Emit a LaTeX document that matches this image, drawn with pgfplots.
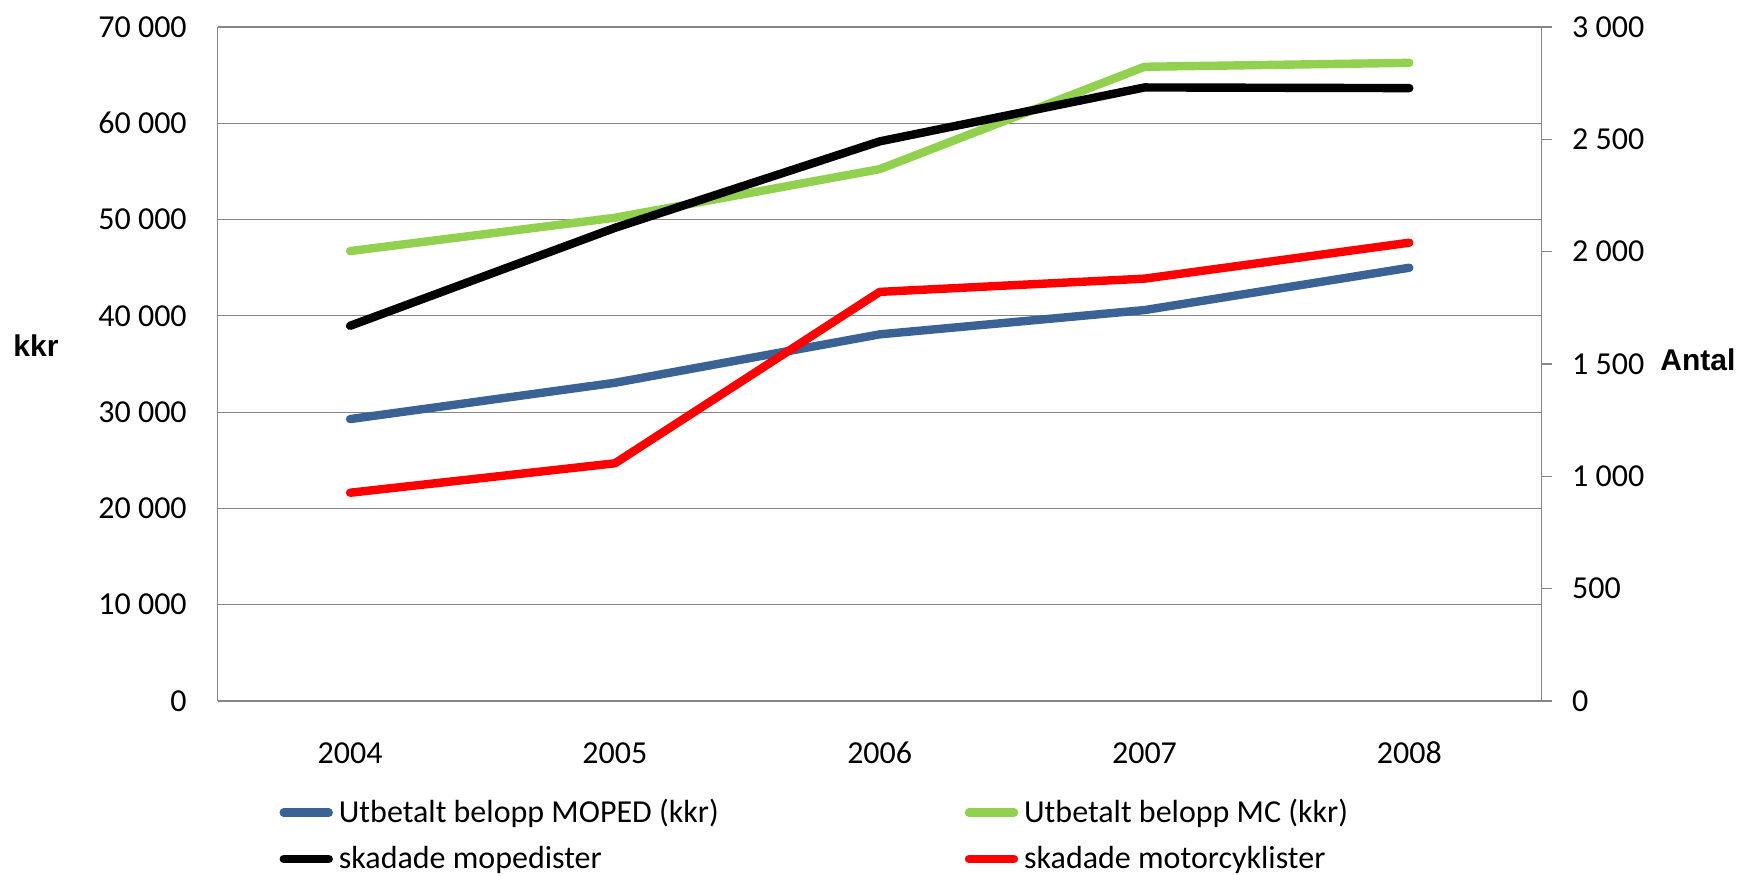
\documentclass[border=0pt]{standalone}
\usepackage{pgfplots}
\pgfplotsset{compat=1.18}
\usepackage{fontspec}
\setmainfont{Carlito}
\newfontfamily\arialb{Liberation Sans}
\definecolor{cblue}{RGB}{58,98,149}
\definecolor{cgreen}{RGB}{146,208,80}
\definecolor{cred}{RGB}{255,0,0}
\definecolor{axgray}{RGB}{134,134,134}
\pgfplotsset{
  common/.style={
    scale only axis, width=662pt, height=337pt,
    at={(108.85pt,87pt)}, anchor=south west,
    xmin=-0.5, xmax=4.5,
    font=\fontsize{16}{19}\selectfont,
    /pgf/number format/assume math mode=true,
    /pgf/number format/1000 sep={\ },
    axis line style={axgray, line width=0.7pt},
    every axis plot/.append style={line width=4.2pt, line cap=round, line join=round},
  }
}
\begin{document}
\begin{tikzpicture}
\useasboundingbox (0,0) rectangle (870.5pt,437.5pt);
\begin{axis}[common,
  ymin=0, ymax=70000, ytick={0,10000,...,70000},
  axis y line*=left, axis x line*=bottom,
  xtick={0,1,2,3,4}, xticklabels={2004,2005,2006,2007,2008},
  major tick length=0pt,
  ymajorgrids, grid style={axgray, line width=0.6pt},
  yticklabel style={anchor=east, inner sep=0pt, xshift=-15.3pt},
  xticklabel style={anchor=center, inner sep=0pt, yshift=-26pt},
  scaled y ticks=false,
]
\addplot[cblue] coordinates {(0,29280) (1,33050) (2,38080) (3,40600) (4,45000)};
\addplot[cgreen] coordinates {(0,46730) (1,50190) (2,55240) (3,65870) (4,66280)};
\end{axis}
\begin{axis}[common,
  ymin=0, ymax=3000, ytick={0,500,...,3000},
  axis y line*=right, axis x line=none,
  tick align=outside, major tick length=5pt,
  tick style={axgray, line width=0.7pt},
  yticklabel style={anchor=west, inner sep=0pt, xshift=10pt},
  scaled y ticks=false,
  legend columns=2,
  legend image code/.code={\draw[line width=4.2pt, line cap=round, #1] (2pt,0pt) -- (24.5pt,0pt);},
  legend style={draw=none, fill=none, inner sep=0pt, outer sep=0pt,
    at={(0.0467,-0.146)}, anchor=north west, row sep=10.3pt,
    font=\fontsize{16}{19}\selectfont,
    nodes={inner sep=0pt, anchor=west},
    /tikz/column 2/.style={column sep=123pt},
    /tikz/column 1/.style={column sep=3pt},
    /tikz/column 3/.style={column sep=3pt}},
  legend cell align=left,
]
\addlegendimage{cblue}
\addlegendentry{Utbetalt belopp MOPED (kkr)}
\addlegendimage{cgreen}
\addlegendentry{Utbetalt belopp MC (kkr)}
\addplot[black] coordinates {(0,1670) (1,2106) (2,2491) (3,2731) (4,2728)};
\addlegendentry{skadade mopedister}
\addplot[cred] coordinates {(0,927) (1,1058) (2,1821) (3,1880) (4,2040)};
\addlegendentry{skadade motorcyklister}
\end{axis}
\node[anchor=west, inner sep=0pt, font=\arialb\bfseries\fontsize{15}{18}\selectfont] at (6.5pt,264.5pt) {kkr};
\node[anchor=west, inner sep=0pt, font=\arialb\bfseries\fontsize{15}{18}\selectfont] at (830pt,257.5pt) {Antal};
\end{tikzpicture}
\end{document}
